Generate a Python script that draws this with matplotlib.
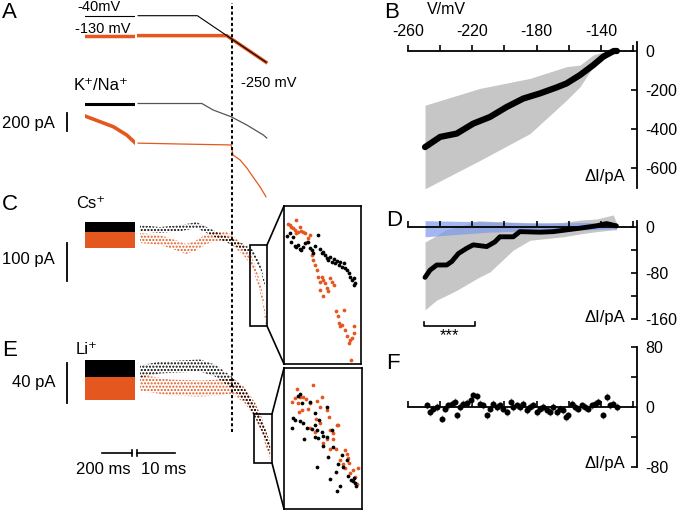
import matplotlib
matplotlib.use('Agg')
import matplotlib.pyplot as plt
import numpy as np
from matplotlib.patches import Rectangle, ConnectionPatch

plt.rcParams['font.family'] = ['Liberation Sans', 'DejaVu Sans']
plt.rcParams['axes.unicode_minus'] = False
plt.rcParams['hatch.linewidth'] = 1.0

ORANGE = '#e4571e'
BLUE = '#7b98ea'
GREY = '#c6c6c6'

# ---------------- data (left traces, time in ms, current in pA) ----------------
block_t = [0, 333]                    # compressed holding segment (200 ms bar)
hold_v_black, hold_v_orange = -40, -130
ramp_t_black = [0.3, 16.1, 34.4]
ramp_v_black = [-40, -40, -250]
ramp_t_orange = [0.3, 23.9, 34.4]
ramp_v_orange = [-130, -130, -250]

# K+/Na+
kna_left_t = [0, 100, 189, 278, 333]
kna_left_orange = [-139, -202, -258, -350, -435]
kna_t_black = [0.3, 17.3, 20.3, 25.1, 29.3, 33.7, 34.6]
kna_i_black = [0, 0, -72, -147, -239, -350, -383]
kna_t_orange = [0.3, 12, 25.1, 25.6, 27.5, 29.3, 30.9, 32.8, 34.4]
kna_i_orange = [-440, -450, -460, -571, -627, -716, -813, -924, -1035]

# Cs+
cs_block_black = (-13, 13)
cs_block_orange = (-55, -13)
cs_t_black = [0.8, 6.1, 11.5, 15.9, 18.6, 21.3, 25.3, 28.3, 31.0, 32.8, 34.1]
cs_i_black = [-3, -8, -3, 5, -8, -21, -39, -52, -69, -104, -148]
cs_t_orange = [0.8, 6.1, 10.1, 13.1, 15.5, 18.1, 20.8, 23.5, 25.3, 28.8, 30.7, 32.3, 33.6, 34.4]
cs_i_orange = [-29, -34, -47, -58, -50, -34, -24, -24, -34, -66, -92, -139, -192, -250]
cs_zoom_t = (30.13, 34.67)
cs_zoom_i = (-260.4, -47.3)
cs_in_t_black = [30.30, 30.46, 30.56, 30.66, 30.76, 30.86, 30.96, 31.06, 31.16, 31.26, 31.36, 31.56,
                 31.66, 31.76, 31.86, 31.95, 32.15, 32.25, 32.35, 32.45, 32.55, 32.65, 32.75, 32.85,
                 32.95, 33.05, 33.15, 33.25, 33.35, 33.45, 33.55, 33.65, 33.75, 33.85, 33.94, 34.04,
                 34.14, 34.24, 34.34, 34.28]
cs_in_i_black = [-87.2, -84.1, -95.3, -88.6, -101.1, -102.9, -99.8, -105.2, -106.5, -102.0, -97.6, -95.3,
                 -104.3, -106.5, -111.0, -101.1, -86.3, -105.6, -111.0, -108.8, -113.3, -117.7, -120.0, -116.4,
                 -122.2, -119.1, -124.5, -120.9, -126.7, -122.2, -129.0, -124.5, -131.2, -133.5, -138.0, -142.4,
                 -146.9, -153.6, -151.4, -144.7]
cs_in_t_orange = [30.36, 30.46, 30.56, 30.66, 30.76, 30.82, 30.86, 30.96, 31.06, 31.16, 31.26, 31.36,
                  31.46, 31.56, 31.66, 31.76, 31.86, 31.95, 32.05, 32.15, 32.25, 32.35, 32.45, 32.55,
                  32.65, 32.75, 32.85, 32.95, 33.05, 32.25, 32.45, 33.21, 33.29, 33.35, 33.45, 33.55,
                  33.65, 33.75, 33.85, 33.94, 34.04, 34.14, 34.24, 34.28, 34.08]
cs_in_i_orange = [-71.5, -72.9, -75.1, -77.4, -79.6, -66.1, -84.1, -81.8, -75.1, -80.5, -81.8, -84.1,
                  -95.3, -90.8, -86.3, -113.3, -120.0, -126.7, -133.5, -142.4, -149.2, -142.4, -146.9, -151.4,
                  -158.1, -162.6, -144.7, -149.2, -153.6, -160.4, -169.3, -189.5, -196.3, -205.2, -209.7, -207.5,
                  -187.3, -214.2, -223.2, -232.2, -227.7, -225.4, -209.7, -218.7, -254.6]

# Li+
li_block_black = (-8.5, 8.5)
li_block_orange = (-31.5, -8.5)
li_t_black = [0.8, 6.1, 11.5, 16.8, 20.8, 25.3, 28.8, 31.5, 33.3, 35.5]
li_i_black = [-3, 1, 2, 3, -2, -14, -27, -42, -57, -80]
li_t_orange = [0.8, 8.8, 16.8, 22.1, 25.3, 28.8, 31.5, 33.3, 35.5]
li_i_orange = [-14, -19, -20, -19, -17, -27, -42, -57, -84]
li_zoom_t = (31.2, 36.0)
li_zoom_i = (-94.5, -45.5)
li_in_t_orange = [31.98, 33.01, 31.67, 31.88, 32.19, 32.39, 32.55, 32.80, 33.25, 33.52, 32.08, 32.29,
                  32.14, 32.70, 33.42, 33.83, 33.99, 34.44, 34.54, 33.15, 33.42, 32.80, 33.11, 34.03,
                  34.24, 33.83, 33.62, 34.24, 34.03, 34.40, 34.95, 35.06, 34.65, 34.85, 35.16, 35.22,
                  34.95, 35.47, 35.77, 35.26, 35.57, 35.67]
li_in_i_orange = [-52.8, -51.4, -57.2, -56.0, -55.5, -55.7, -56.4, -57.5, -57.0, -55.5, -57.8, -60.1,
                  -60.7, -59.9, -58.9, -60.1, -62.4, -65.3, -65.3, -63.3, -64.7, -66.5, -67.6, -67.0,
                  -68.2, -70.3, -71.4, -70.3, -73.8, -73.8, -74.0, -75.4, -77.5, -78.8, -76.9, -78.6,
                  -80.4, -80.9, -80.4, -82.1, -83.5, -85.8]
li_in_t_black = [32.19, 32.08, 32.29, 32.80, 33.11, 33.37, 33.83, 31.73, 31.88, 31.67, 32.19, 32.39,
                 32.60, 32.90, 33.11, 33.25, 33.52, 33.62, 33.83, 32.45, 33.11, 33.31, 33.58, 34.13,
                 34.24, 33.93, 34.75, 34.54, 34.40, 34.85, 35.06, 33.25, 34.03, 35.16, 35.30, 35.47,
                 35.57, 35.63, 34.65, 34.48, 35.51]
li_in_i_black = [-54.5, -55.2, -57.8, -57.2, -61.2, -63.6, -59.2, -63.0, -63.6, -66.2, -63.9, -64.7,
                 -66.5, -66.8, -65.3, -67.0, -67.6, -69.1, -69.6, -70.2, -69.6, -69.7, -72.6, -67.0,
                 -72.8, -76.3, -75.7, -78.8, -81.5, -79.8, -77.5, -80.0, -84.0, -83.2, -84.4, -84.6,
                 -85.3, -86.5, -86.5, -88.1, -83.8]

# ---------------- data (right panels, V in mV, delta I in pA) ----------------
b_v = [-249.4, -240, -229.7, -219.4, -209, -198.6, -188.3, -178, -167.5, -161.4, -153, -144.7, -138.5, -132, -130]
b_i = [-491, -439, -422, -371, -337, -286, -243, -217, -186, -166, -123, -72, -29, 0, 0]
b_band_v = [-249.4, -215.2, -184.1, -161.3, -153.0, -144.7, -136.4, -133.3, -130]
b_band_hi = [-277, -191, -140, -80, -72, -20, 0, 0, 0]
b_band_lo = [-704, -559, -422, -251, -183, -80, -30, 0, 0]

d_v = [-249.4, -246.3, -242.1, -235.9, -232.8, -228.6, -223.5, -219.4, -211, -206, -202.8, -194.5, -190.4,
       -178, -169.7, -161.4, -153, -142.8, -136.5, -130.3]
d_i = [-87.5, -75, -66, -66, -60, -46, -37, -31, -34, -26, -17, -17, -8, -9, -8, -5, -2, 2, 6, 2]
d_band_v = [-249.4, -242.2, -236.9, -229.7, -216.2, -209.0, -194.5, -184.1, -163.4, -153.0, -142.6, -132.3, -130.2]
d_band_hi = [-26, -15, -5, 0, 11, 10, 8, 6, 8, 12, 14, 21, 7]
d_band_lo = [-144, -127, -120, -110, -88, -78, -40, -23, -17, -12, -8, -5, -5]
d_blue_v = [-249.4, -230, -210, -190, -170, -150, -130.2]
d_blue_hi = [11, 10, 9, 8, 7, 8, 6]
d_blue_lo = [-17, -13, -9, -7, -5, -5, -3]

f_v = [-248.4, -246.3, -244.3, -242.2, -239.1, -237.0, -234.9, -232.8, -230.8, -229.7, -227.7, -225.6,
       -223.1, -221.0, -219.4, -216.9, -215.2, -213.1, -211.1, -209.0, -206.9, -204.8, -202.8, -200.7,
       -198.6, -196.1, -194.5, -192.4, -190.3, -188.3, -186.2, -184.1, -182.0, -180.0, -177.9, -175.8,
       -173.7, -171.7, -169.6, -167.5, -165.4, -163.4, -161.7, -160.3, -158.2, -156.1, -154.0, -152.0,
       -149.9, -147.8, -145.7, -143.7, -141.6, -138.5, -136.4, -134.3, -132.3, -130.2]
f_i = [2.2, -6.7, -2.2, 0, -15.6, -2.2, 2.2, 4.4, 6.7, -11.1, 0, 4.4,
       5.3, 8.9, 15.6, 14.2, 4.4, 2.2, -11.1, -2.2, 4.4, 0, 2.2, -2.2,
       -6.7, 6.7, 0, 2.2, 0, 4.4, -4.4, 0, 2.2, -6.7, -2.2, 0,
       -4.4, -6.7, 0, -6.7, -2.2, -4.4, -13.3, -11.1, 4.4, 0, -2.2, 2.2,
       0, -2.2, 2.2, 4.4, 6.7, -11.1, 13.3, 2.2, 4.4, 0]
f_err = 5

# ---------------- figure ----------------
W, H = 686, 511
fig = plt.figure(figsize=(W / 100, H / 100), dpi=100)


def px_axes(x0, y0, x1, y1):
    ax = fig.add_axes([x0 / W, 1 - y1 / H, (x1 - x0) / W, (y1 - y0) / H])
    ax.set_facecolor('none')
    return ax


def ftext(x, y, s, **kw):
    kw.setdefault('va', 'center')
    kw.setdefault('fontsize', 12)
    fig.text(x / W, 1 - y / H, s, **kw)


def row(y0, y1, ylim):
    axl = px_axes(85, y0, 135, y1)
    axr = px_axes(137, y0, 275, y1)
    axl.set_xlim(0, 333)
    axr.set_xlim(0, 36.8)
    for a in (axl, axr):
        a.set_ylim(*ylim)
        a.axis('off')
    return axl, axr


def cloud(ax, t, i, half, color):
    i = np.asarray(i, dtype=float)
    ax.fill_between(t, i - half, i + half, facecolor='none', edgecolor=color,
                    hatch='.....', linewidth=0)


def zoom_inset(ax, tz, iz, box, pts):
    x0, y0, x1, y1 = box
    ins = px_axes(x0, y0, x1, y1)
    ins.set_xlim(*tz)
    ins.set_ylim(*iz)
    ins.set_xticks([])
    ins.set_yticks([])
    for s in ins.spines.values():
        s.set_linewidth(1.2)
    for t, i, c in pts:
        ins.plot(t, i, 'o', ms=2.7, color=c, mec='none')
    ax.add_patch(Rectangle((tz[0], iz[0]), tz[1] - tz[0], iz[1] - iz[0], fill=False,
                           lw=1.2, ec='k', clip_on=False))
    for yA, yB in ((iz[1], 1), (iz[0], 0)):
        con = ConnectionPatch(xyA=(tz[1], yA), coordsA=ax.transData,
                              xyB=(0, yB), coordsB=ins.transAxes, color='k', lw=1.2)
        fig.add_artist(con)


# A: voltage protocol
avl, avr = row(0, 80, (-330.4, 30.9))
avl.plot(block_t, [hold_v_orange] * 2, color=ORANGE, lw=2.5)
avl.plot(block_t, [hold_v_black] * 2, color='k', lw=0.8)
avr.plot(ramp_t_orange, ramp_v_orange, color=ORANGE, lw=2.5)
avr.plot(ramp_t_black, ramp_v_black, color='k', lw=0.8)

# A: K+/Na+ currents
acl, acr = row(80, 205, (-1126.6, 260.9))
acl.plot(block_t, [0, 0], color='k', lw=2.2)
acl.plot(kna_left_t, kna_left_orange, color=ORANGE, lw=2.6)
acr.plot(kna_t_black, kna_i_black, color='#555555', lw=0.9)
acr.plot(kna_t_orange, kna_i_orange, color=ORANGE, lw=0.9)
acl.plot([-120, -120], [-105, -305], color='k', lw=1.3, clip_on=False)

# C: Cs+
ccl, ccr = row(190, 340, (-297.2, 97.3))
ccl.fill_between(block_t, *cs_block_orange, color=ORANGE, lw=0)
ccl.fill_between(block_t, *cs_block_black, color='k', lw=0)
cloud(ccr, cs_t_orange, cs_i_orange, 13, ORANGE)
cloud(ccr, cs_t_black, cs_i_black, 8, 'k')
ccl.plot([-120, -120], [-41.3, -141.3], color='k', lw=1.3, clip_on=False)
zoom_inset(ccr, cs_zoom_t, cs_zoom_i, (284, 206, 361, 364),
           [(cs_in_t_orange, cs_in_i_orange, ORANGE), (cs_in_t_black, cs_in_i_black, 'k')])

# E: Li+
ecl, ecr = row(340, 480, (-111.5, 28.5))
ecl.fill_between(block_t, *li_block_orange, color=ORANGE, lw=0)
ecl.fill_between(block_t, *li_block_black, color='k', lw=0)
cloud(ecr, li_t_orange, li_i_orange, 8, ORANGE)
cloud(ecr, li_t_black, li_i_black, 6, 'k')
ecl.plot([-120, -120], [5.5, -34.5], color='k', lw=1.3, clip_on=False)
zoom_inset(ecr, li_zoom_t, li_zoom_i, (284, 368, 362, 509),
           [(li_in_t_orange, li_in_i_orange, ORANGE), (li_in_t_black, li_in_i_black, 'k')])

# time scale bars
ecl.plot([111, 311], [-84.2, -84.2], color='k', lw=1.2, clip_on=False)
ecl.plot([311, 311], [-81, -87.4], color='k', lw=1.2, clip_on=False)
ecr.plot([0, 10], [-84.2, -84.2], color='k', lw=1.2, clip_on=False)
ecr.plot([0, 0], [-81, -87.4], color='k', lw=1.2, clip_on=False)

# dashed marker at ramp start
ovl = px_axes(137, 0, 275, 511)
ovl.set_xlim(0, 36.8)
ovl.axis('off')
ovl.axvline(25.2, ymin=1 - 432 / H, ymax=1 - 3 / H, color='k', lw=1.4, ls=(0, (1.6, 1.3)))

# left texts
ftext(2, 12, 'A', fontsize=16)
ftext(77, 7, '-40mV', fontsize=10.5)
ftext(75, 29, '-130 mV', fontsize=10.5)
ftext(241, 83, '-250 mV', fontsize=10.5)
ftext(74, 86, 'K⁺/Na⁺')
ftext(55, 123, '200 pA', ha='right')
ftext(2, 205, 'C', fontsize=16)
ftext(76, 203, 'Cs⁺')
ftext(55, 259, '100 pA', ha='right')
ftext(2, 350, 'E', fontsize=16)
ftext(76, 350, 'Li⁺')
ftext(55, 382, '40 pA', ha='right')
ftext(103, 470, '200 ms', ha='center')
ftext(164, 470, '10 ms', ha='center')


# right panels
def right_panel(y0, y1, ylim, ybounds, yticks, yminor, xlabels):
    ax = px_axes(408, y0, 637, y1)
    ax.set_xlim(-260, -117.5)
    ax.set_ylim(*ylim)
    ax.spines['left'].set_visible(False)
    ax.spines['bottom'].set_visible(False)
    ax.spines['top'].set_position(('data', 0))
    ax.spines['top'].set_bounds(-260, -120)
    ax.spines['right'].set_bounds(*ybounds)
    for s in ('top', 'right'):
        ax.spines[s].set_linewidth(1.3)
    ax.xaxis.tick_top()
    ax.yaxis.tick_right()
    ax.set_xticks([-260, -220, -180, -140])
    ax.set_xticks([-240, -200, -160, -120], minor=True)
    ax.set_yticks(yticks)
    ax.set_yticks(yminor, minor=True)
    ax.tick_params(axis='x', which='both', direction='out', length=4, width=1.2,
                   labelsize=11.5, pad=5, labeltop=xlabels)
    ax.tick_params(axis='y', which='both', direction='in', length=4, width=1.2,
                   labelsize=11.5, pad=6)
    return ax


axb = right_panel(42, 188, (-700, 46), (-700, 46), [0, -200, -400, -600], [], True)
axb.fill_between(b_band_v, b_band_lo, b_band_hi, color=GREY, lw=0)
axb.plot(b_v, b_i, color='k', lw=4.5, solid_capstyle='round')

axd = right_panel(215, 330, (-179, 20.9), (-160, 10), [0, -80, -160], [-40, -120], False)
axd.fill_between(d_band_v, d_band_lo, d_band_hi, color=GREY, lw=0)
axd.fill_between(d_blue_v, d_blue_lo, d_blue_hi, color=BLUE, alpha=0.7, lw=0)
axd.plot(d_v, d_i, color='k', lw=3.5, solid_capstyle='round')
axd.plot([-250, -250, -218.3, -218.3], [-165.3, -171.7, -171.7, -165.3], color='k', lw=1.2, clip_on=False)
axd.text(-234, -189, '***', ha='center', va='center', fontsize=12)

axf = right_panel(340, 475, (-90.7, 89.3), (-80, 80), [80, 0, -80], [40, -40], False)
axf.errorbar(f_v, f_i, yerr=f_err, fmt='o', ms=3.3, color='k', ecolor='#9a9a9a',
             elinewidth=0.8, capsize=0)

ftext(384, 12, 'B', fontsize=16)
ftext(427, 10, 'V/mV', fontsize=11.5)
ftext(386, 221, 'D', fontsize=16)
ftext(386, 363, 'F', fontsize=16)
for y in (177, 317, 463):
    ftext(625, y, 'ΔI/pA', ha='right')

fig.savefig('out.png', dpi=100)
